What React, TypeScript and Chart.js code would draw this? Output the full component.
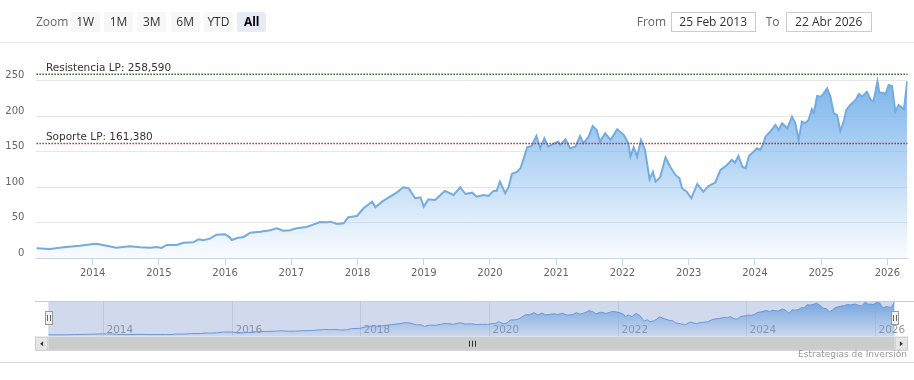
import React, { useEffect, useRef } from 'react';
import { Chart, registerables } from 'chart.js';

Chart.register(...registerables);

// ---- data (decimal years / price) ----
const years = [
  2013.15, 2013.36, 2013.56, 2013.81, 2014.01, 2014.06, 2014.21, 2014.36, 2014.56, 2014.72,
  2014.87, 2014.97, 2015.04, 2015.12, 2015.27, 2015.37, 2015.52, 2015.6, 2015.67, 2015.77,
  2015.87, 2016.0, 2016.07, 2016.1, 2016.18, 2016.28, 2016.38, 2016.53, 2016.68, 2016.78,
  2016.88, 2016.98, 2017.08, 2017.23, 2017.33, 2017.43, 2017.54, 2017.59, 2017.69, 2017.79,
  2017.86, 2017.99, 2018.09, 2018.22, 2018.27, 2018.37, 2018.49, 2018.59, 2018.69, 2018.77,
  2018.87, 2018.95, 2019.0, 2019.07, 2019.17, 2019.32, 2019.45, 2019.55, 2019.63, 2019.73,
  2019.8, 2019.9, 2019.98, 2020.05, 2020.1, 2020.15, 2020.23, 2020.28, 2020.33, 2020.41,
  2020.46, 2020.51, 2020.56, 2020.63, 2020.7, 2020.76, 2020.82, 2020.88, 2020.96, 2021.03,
  2021.06, 2021.14, 2021.21, 2021.29, 2021.36, 2021.41, 2021.49, 2021.55, 2021.61, 2021.66,
  2021.74, 2021.82, 2021.92, 2022.02, 2022.09, 2022.12, 2022.17, 2022.22, 2022.28, 2022.34,
  2022.41, 2022.46, 2022.5, 2022.57, 2022.65, 2022.72, 2022.8, 2022.86, 2022.9, 2022.97,
  2023.04, 2023.13, 2023.22, 2023.3, 2023.4, 2023.48, 2023.58, 2023.65, 2023.7, 2023.75,
  2023.81, 2023.86, 2023.91, 2023.98, 2024.03, 2024.08, 2024.13, 2024.16, 2024.23, 2024.31,
  2024.36, 2024.41, 2024.49, 2024.56, 2024.61, 2024.66, 2024.71, 2024.76, 2024.81, 2024.86,
  2024.89, 2024.94, 2025.0, 2025.04, 2025.09, 2025.14, 2025.19, 2025.24, 2025.29, 2025.34,
  2025.38, 2025.44, 2025.52, 2025.57, 2025.62, 2025.69, 2025.75, 2025.79, 2025.85, 2025.88,
  2025.94, 2025.97, 2026.02, 2026.07, 2026.12, 2026.17, 2026.25, 2026.3,
];

const prices = [
  14, 13.1, 15.5, 17.7, 20, 20.5, 17.7, 14.9, 16.9, 15.5,
  14.9, 15.9, 14.5, 18.7, 18.7, 21.9, 22.5, 26.7, 25.3, 27.6,
  33.2, 33.8, 29.5, 25.7, 28.6, 30, 36, 37.4, 39.4, 42.2,
  38.8, 39.4, 42.2, 44, 47.3, 51, 50.6, 51.5, 48.2, 49.2,
  57.7, 59.5, 70.3, 79.6, 71.7, 79.6, 86.6, 92.3, 99.9, 98.5,
  84.4, 85.8, 72.6, 83, 82, 94.7, 89, 99.9, 90.4, 92.3,
  86.6, 89, 87.6, 94.7, 94.7, 107.7, 91.4, 99.9, 118.6, 121.8,
  126.6, 140.6, 156.1, 158, 172, 154.7, 168.8, 157, 160.8, 164,
  159.4, 167.4, 154.7, 157, 172, 161.7, 171, 186, 180.4, 164,
  175.8, 166.4, 181.4, 173.4, 161.7, 142.9, 156.1, 142.9, 166.4, 152.3,
  111.1, 121.8, 107.7, 113.9, 142, 128.8, 117.2, 112.5, 98.5, 93.7,
  84.4, 104.5, 93.7, 101.7, 106.3, 124.2, 131.2, 138.3, 134.5, 143.9,
  128.8, 126.6, 143.9, 149.9, 154.7, 152.3, 161.7, 171, 178, 187.5,
  180.4, 189.9, 182.8, 199.1, 189.9, 166.4, 192.1, 189.9, 194.5, 209.5,
  204.8, 228.2, 227.3, 232, 239, 227.3, 203.9, 201.5, 179, 192.1,
  208.6, 215.6, 222.6, 231.1, 227.3, 234.3, 222.6, 220.2, 249, 232.9,
  232.9, 229.7, 243.7, 242.3, 206.2, 215.6, 209.5, 249,
];

const yearTicks = [2014, 2015, 2016, 2017, 2018, 2019, 2020, 2021, 2022, 2023, 2024, 2025, 2026];
const navTicks = [2014, 2016, 2018, 2020, 2022, 2024, 2026];
const yTicks = [0, 50, 100, 150, 200, 250];
const X_MIN = 2013.151;
const X_MAX = 2026.304;
const resistance = 258.59;
const support = 161.38;
const resistanceLabel = 'Resistencia LP: 258,590';
const supportLabel = 'Soporte LP: 161,380';
const zoomButtons = ['1W', '1M', '3M', '6M', 'YTD', 'All'];
const fromDate = '25 Feb 2013';
const toDate = '22 Abr 2026';
const creditText = 'Estrategias de Inversión';

const FONT = '"DejaVu Sans", Verdana, sans-serif';
const UIFONT = '"Open Sans", "Segoe UI", sans-serif';

function makeGradient(chart: any) {
  const ca = chart.chartArea;
  if (!ca) return 'rgba(124,181,236,0.5)';
  const top = chart.scales.y.getPixelForValue(Math.max(...prices));
  const g = chart.ctx.createLinearGradient(0, top, 0, ca.bottom);
  g.addColorStop(0, 'rgba(124,181,236,1)');
  g.addColorStop(1, 'rgba(124,181,236,0.04)');
  return g;
}

const plotLinesPlugin = {
  id: 'plotLines',
  afterDatasetsDraw(chart: any) {
    const { ctx, chartArea: ca } = chart;
    const y = chart.scales.y;
    const lines: [number, string, string][] = [
      [resistance, resistanceLabel, 'rgb(40,100,40)'],
      [support, supportLabel, 'rgb(170,50,50)'],
    ];
    lines.forEach(([v, label, color]) => {
      const py = y.getPixelForValue(v);
      ctx.save();
      ctx.strokeStyle = color;
      ctx.lineWidth = 1.5;
      ctx.setLineDash([1.5, 1.5]);
      ctx.beginPath();
      ctx.moveTo(ca.left, py);
      ctx.lineTo(ca.right, py);
      ctx.stroke();
      ctx.setLineDash([]);
      ctx.fillStyle = '#333';
      ctx.font = '10.5px ' + FONT;
      ctx.textAlign = 'left';
      ctx.textBaseline = 'alphabetic';
      ctx.fillText(label, ca.left + 9.5, py - 3.5);
      ctx.restore();
    });
  },
};

const NAV_TOP = 290; // canvas offset on page

const navPlugin = {
  id: 'navDecor',
  beforeDatasetsDraw(chart: any) {
    const { ctx, chartArea: ca } = chart;
    const x = chart.scales.x;
    ctx.save();
    ctx.strokeStyle = '#e6e6e6';
    ctx.lineWidth = 1;
    ctx.font = '10.5px ' + FONT;
    ctx.fillStyle = '#999';
    ctx.textAlign = 'left';
    ctx.textBaseline = 'alphabetic';
    navTicks.forEach((v) => {
      const px = Math.round(x.getPixelForValue(v)) + 0.5;
      ctx.beginPath();
      ctx.moveTo(px, ca.top);
      ctx.lineTo(px, ca.bottom);
      ctx.stroke();
      ctx.fillText(String(v), px + 3, 333 - NAV_TOP);
    });
    ctx.restore();
  },
  afterDatasetsDraw(chart: any) {
    const { ctx, chartArea: ca } = chart;
    ctx.save();
    // mask over whole selected range
    ctx.fillStyle = 'rgba(102,133,194,0.3)';
    ctx.fillRect(ca.left, ca.top, ca.right - ca.left, ca.bottom - ca.top);
    // outline
    ctx.strokeStyle = '#cccccc';
    ctx.lineWidth = 1;
    ctx.beginPath();
    ctx.moveTo(35, 301.5 - NAV_TOP);
    ctx.lineTo(914, 301.5 - NAV_TOP);
    ctx.stroke();
    // scrollbar
    const sTop = 336.7 - NAV_TOP;
    const sH = 14;
    ctx.fillStyle = '#f2f2f2';
    ctx.fillRect(35, sTop, 908 - 35, sH);
    ctx.fillStyle = '#cccccc';
    ctx.fillRect(ca.left, sTop, ca.right - ca.left, sH);
    // buttons
    const btn = (bx: number, dir: number) => {
      ctx.fillStyle = '#e6e6e6';
      ctx.fillRect(bx, sTop, 13.3, sH);
      ctx.strokeStyle = '#cccccc';
      ctx.strokeRect(bx + 0.5, sTop + 0.5, 12.3, sH - 1);
      const cx = bx + 6.65;
      const cy = sTop + sH / 2;
      ctx.fillStyle = '#333';
      ctx.beginPath();
      ctx.moveTo(cx - 1.5 * dir, cy);
      ctx.lineTo(cx + 1.5 * dir, cy - 2.5);
      ctx.lineTo(cx + 1.5 * dir, cy + 2.5);
      ctx.closePath();
      ctx.fill();
    };
    btn(35, 1);
    btn(ca.right, -1);
    // grip
    const gx = (ca.left + ca.right) / 2;
    ctx.strokeStyle = '#333';
    ctx.lineWidth = 1;
    [-3, 0, 3].forEach((d) => {
      const px = Math.round(gx + d) + 0.5;
      ctx.beginPath();
      ctx.moveTo(px, sTop + 4);
      ctx.lineTo(px, sTop + 10);
      ctx.stroke();
    });
    // handles
    const handle = (hx: number) => {
      const left = Math.round(hx - 3.5) + 0.5;
      const top = 311.5 - NAV_TOP;
      ctx.fillStyle = '#f2f2f2';
      ctx.strokeStyle = '#999999';
      ctx.fillRect(left, top, 7, 13);
      ctx.strokeRect(left, top, 7, 13);
      ctx.strokeStyle = '#666';
      [2, 5].forEach((d) => {
        ctx.beginPath();
        ctx.moveTo(left + d, top + 3.5);
        ctx.lineTo(left + d, top + 9.5);
        ctx.stroke();
      });
    };
    handle(ca.left);
    handle(ca.right);
    // credits
    ctx.fillStyle = '#999';
    ctx.font = '9px ' + FONT;
    ctx.textAlign = 'right';
    ctx.textBaseline = 'alphabetic';
    ctx.fillText(creditText, 907, 356.5 - NAV_TOP);
    // bottom separator
    ctx.strokeStyle = '#d9d9d9';
    ctx.beginPath();
    ctx.moveTo(0, 362.5 - NAV_TOP);
    ctx.lineTo(914, 362.5 - NAV_TOP);
    ctx.stroke();
    ctx.restore();
  },
};

export default function App() {
  const mainRef = useRef<HTMLCanvasElement>(null);
  const navRef = useRef<HTMLCanvasElement>(null);

  useEffect(() => {
    const points = years.map((x, i) => ({ x, y: prices[i] }));
    const main = new Chart(mainRef.current!, {
      type: 'line',
      data: {
        datasets: [
          {
            data: points,
            borderColor: '#74abe0',
            borderWidth: 2,
            backgroundColor: (c: any) => makeGradient(c.chart),
            fill: 'start',
            pointRadius: 0,
            tension: 0,
          },
        ],
      },
      options: {
        responsive: false,
        animation: false,
        devicePixelRatio: 1,
        layout: { padding: { top: 62.7, left: 0, right: 6.5, bottom: 0 } },
        plugins: { legend: { display: false }, tooltip: { enabled: false } },
        scales: {
          x: {
            type: 'linear',
            min: X_MIN,
            max: X_MAX,
            afterBuildTicks: (s: any) => {
              s.ticks = yearTicks.map((v) => ({ value: v }));
            },
            afterFit: (s: any) => {
              s.height = 26.7;
            },
            ticks: {
              font: { family: FONT, size: 10 },
              color: '#666',
              padding: 2,
              maxRotation: 0,
              autoSkip: false,
              callback: (v: any) => String(v),
            },
            grid: { drawOnChartArea: false, drawTicks: true, tickLength: 7, color: '#ccd6eb' },
            border: { color: '#ccd6eb' },
          },
          y: {
            min: 0,
            max: 275,
            afterBuildTicks: (s: any) => {
              s.ticks = yTicks.map((v) => ({ value: v }));
            },
            afterFit: (s: any) => {
              s.width = 36.4;
            },
            ticks: {
              font: { family: FONT, size: 10 },
              color: '#666',
              padding: 12,
              labelOffset: -5,
              callback: (v: any) => String(v),
            },
            grid: { color: '#e6e6e6', drawTicks: false },
            border: { display: false },
          },
        },
      },
      plugins: [plotLinesPlugin],
    } as any);

    const nav = new Chart(navRef.current!, {
      type: 'line',
      data: {
        datasets: [
          {
            data: points,
            borderColor: '#6a9fe0',
            borderWidth: 1,
            backgroundColor: (c: any) => makeGradient(c.chart),
            fill: 'start',
            pointRadius: 0,
            tension: 0,
          },
        ],
      },
      options: {
        responsive: false,
        animation: false,
        devicePixelRatio: 1,
        layout: { padding: { top: 11.5, left: 48.3, right: 914 - 894.7, bottom: 80 - 46.7 } },
        plugins: { legend: { display: false }, tooltip: { enabled: false } },
        scales: {
          x: { type: 'linear', min: X_MIN, max: X_MAX, display: false },
          y: { min: 0, max: 252, display: false },
        },
      },
      plugins: [navPlugin],
    } as any);

    return () => {
      main.destroy();
      nav.destroy();
    };
  }, []);

  const btnBase: React.CSSProperties = {
    position: 'absolute',
    top: 12,
    width: 29,
    height: 20,
    lineHeight: '20px',
    textAlign: 'center',
    fontFamily: UIFONT,
    fontSize: 12,
    borderRadius: 2,
  };
  const labelBase: React.CSSProperties = {
    position: 'absolute',
    top: 12,
    height: 20,
    lineHeight: '20px',
    fontFamily: UIFONT,
    fontSize: 12,
    color: '#666',
  };
  const inputBase: React.CSSProperties = {
    position: 'absolute',
    top: 12,
    height: 20,
    lineHeight: '18px',
    boxSizing: 'border-box',
    border: '1px solid #cccccc',
    textAlign: 'center',
    fontFamily: UIFONT,
    fontSize: 12,
    color: '#333',
    background: '#fff',
  };

  return (
    <div style={{ position: 'absolute', left: 0, top: 0, width: 914, height: 380, background: '#fff', overflow: 'hidden' }}>
      <canvas ref={mainRef} width={914} height={285} style={{ position: 'absolute', left: 0, top: 0, width: 914, height: 285 }} />
      <canvas ref={navRef} width={914} height={80} style={{ position: 'absolute', left: 0, top: NAV_TOP, width: 914, height: 80 }} />
      <div style={{ position: 'absolute', left: 0, top: 42, width: 914, height: 1, background: '#e6e6e6' }} />
      <div style={{ ...labelBase, left: 36 }}>Zoom</div>
      {zoomButtons.map((b, i) => (
        <div
          key={b}
          style={{
            ...btnBase,
            left: 70.7 + i * 33.3,
            background: b === 'All' ? '#e6ebf5' : '#f7f7f7',
            color: b === 'All' ? '#000' : '#333',
            fontWeight: b === 'All' ? 'bold' : 'normal',
          }}
        >
          {b}
        </div>
      ))}
      <div style={{ ...labelBase, left: 636.7 }}>From</div>
      <div style={{ ...inputBase, left: 670.7, width: 85 }}>{fromDate}</div>
      <div style={{ ...labelBase, left: 765.7 }}>To</div>
      <div style={{ ...inputBase, left: 785.7, width: 86 }}>{toDate}</div>
    </div>
  );
}
